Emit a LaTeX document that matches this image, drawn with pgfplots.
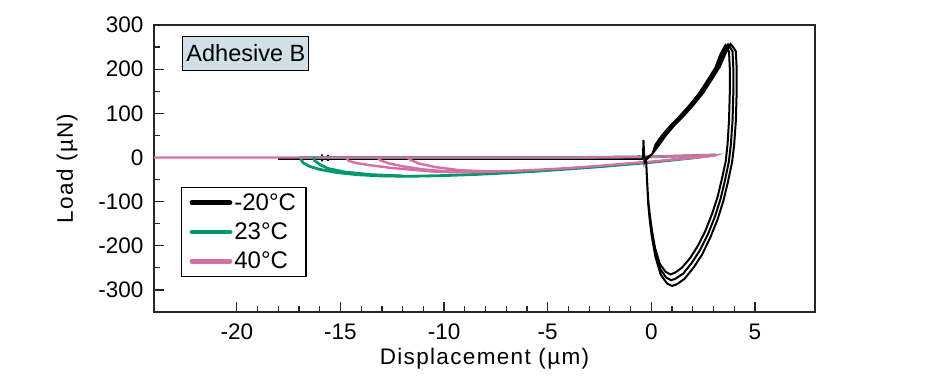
\documentclass[border=0pt]{standalone}
\usepackage{pgfplots}
\pgfplotsset{compat=1.18}
\usepackage{fontspec}
\setmainfont{Liberation Sans}
\definecolor{cgreen}{RGB}{0,152,110}
\definecolor{cpink}{RGB}{212,112,164}
\definecolor{cbox}{RGB}{208,224,230}
\begin{document}
\begin{tikzpicture}[x=1pt,y=1pt]
\useasboundingbox (0,0) rectangle (950,380);
\begin{axis}[
  at={(154pt,68pt)}, anchor=south west,
  scale only axis, width=661pt, height=287pt,
  xmin=-24, xmax=7.9, ymin=-350, ymax=300,
  xtick={-20,-15,...,5}, ytick={-300,-200,...,300},
  minor x tick num=4, minor y tick num=1,
  xtick pos=bottom, ytick pos=left,
  tick align=inside,
  major tick length=10pt, minor tick length=6pt,
  axis line style={line width=1.6pt, black!85},
  every tick/.style={line width=1.2pt, black!85},
  /pgf/number format/assume math mode=true,
  ticklabel style={font=\fontsize{22.5}{26}\selectfont},
  xticklabel style={yshift=-8pt},
  yticklabel style={xshift=-7pt},
  xlabel={Displacement (µm)}, ylabel={Load (µN)},
  label style={font=\addfontfeatures{LetterSpace=6}\fontsize{22.5}{26}\selectfont},
  xlabel style={at={(axis description cs:0.5,-0.162)}, anchor=center},
  ylabel style={at={(axis description cs:-0.1316,0.5)}, anchor=center},
  legend style={at={(axis description cs:0.0408,0.4355)}, anchor=north west,
    font=\fontsize{24}{28}\selectfont, draw=black, line width=1.2pt,
    inner xsep=8pt, inner ysep=4pt, row sep=7pt, cells={anchor=west}},
  legend image code/.code={\draw[#1, line width=4.8pt, line cap=round] (0pt,0pt) -- (38pt,0pt);},
  clip=true,
]
% -20C approach (horizontal) segment
\addplot[black, line width=2pt] coordinates {
(-18,-2.5) (-15.9,-2.5) (-15.9,7) (-15.9,-9) (-15.9,-2.5) (-15.6,-2.5) (-15.6,6) (-15.6,-8) (-15.6,-2.5)
(-0.6,-2.5) (-0.6,5) (-0.6,-6) (-0.6,-2.5) (-0.4,-2.5)};
\addlegendentry{-20°C}
% 23C
\addplot[cgreen, line width=2.8pt] coordinates {
(-17,0) (-3.4,0) (0,1.5) (3.0,5.5)
(3.1,6) (2,-1) (1,-6) (0,-11) (-1,-15) (-2.5,-21) (-4,-26) (-5.5,-31) (-7,-35) (-8.5,-38.5)
(-10,-41) (-11.5,-42.5) (-13,-42) (-14.2,-39) (-15.2,-34) (-16,-27) (-16.5,-20) (-16.8,-12) (-16.9,-5) (-16.9,0)};
\addlegendentry{23°C}
% 40C
\addplot[cpink, line width=2.4pt] coordinates {
(-24,0) (-3.4,0) (0,1.5) (3.1,5.5)
(3.0,4) (2,-1) (1,-5) (0,-9.5) (-1,-13) (-2.5,-19) (-4,-24) (-5.5,-28) (-7,-31) (-8.5,-33)
(-9.5,-33.5) (-10.5,-32) (-11.5,-28) (-12.5,-24) (-13.5,-18) (-14.2,-13) (-14.6,-8) (-14.7,-2) (-14.7,0)};
\addlegendentry{40°C}
\addplot[cgreen, line width=2.8pt, forget plot] coordinates {
(-12,-42) (-13.5,-39) (-14.8,-33) (-15.6,-25) (-16.0,-16) (-16.25,-7) (-16.3,0)};
\addplot[cpink, line width=2.4pt, forget plot] coordinates {
(-8.5,-33) (-10,-31) (-11,-27) (-12,-20) (-12.7,-13) (-13.1,-6) (-13.2,0)};
\addplot[cpink, line width=2.4pt, forget plot] coordinates {
(-7.5,-32) (-9.2,-29) (-10.4,-22) (-11.2,-14) (-11.6,-6) (-11.8,0)};
% -20C loops
\addplot[black, line width=2pt, forget plot] coordinates {
(-0.4,-2.5) (-0.38,40) (-0.33,-8) (-0.3,-3) (0.05,8)
(0.4,30) (0.7,50) (1.1,72) (1.5,91) (2.0,117) (2.5,146) (2.9,175) (3.3,205) (3.58,235) (3.75,252) (3.82,257)
(3.95,250) (4.08,240) (4.12,200) (4.12,150) (4.08,83) (4.0,30) (3.9,-10) (3.7,-55) (3.48,-98) (3.2,-140)
(2.85,-181) (2.45,-220) (2.03,-250) (1.6,-275) (1.24,-287) (1.0,-291) (0.75,-285) (0.45,-265) (0.2,-225)
(0.03,-181) (-0.08,-140) (-0.15,-105) (-0.21,-50) (-0.25,-5) (0.05,8)
(0.3,31) (0.6,51) (1.0,73) (1.4,92) (1.9,118) (2.4,147) (2.8,176) (3.2,206) (3.45,234) (3.62,250) (3.7,256)
(3.79,250) (3.92,240) (3.96,200) (3.96,150) (3.92,83) (3.84,30) (3.74,-10) (3.55,-53) (3.34,-94) (3.07,-134)
(2.74,-173) (2.35,-210) (1.95,-239) (1.54,-263) (1.19,-274) (0.96,-278) (0.72,-272) (0.43,-253) (0.19,-215)
(0.03,-173) (-0.08,-134) (-0.15,-100) (-0.21,-48) (-0.25,-5) (0.05,8)
(0.2,29) (0.5,49) (0.9,71) (1.3,90) (1.8,116) (2.3,145) (2.7,174) (3.1,204) (3.32,232) (3.5,248) (3.58,254)
(3.63,250) (3.75,240) (3.79,200) (3.79,150) (3.75,83) (3.68,30) (3.59,-9) (3.40,-50) (3.20,-89) (2.94,-127)
(2.62,-165) (2.25,-200) (1.87,-228) (1.47,-250) (1.14,-261) (0.92,-265) (0.69,-259) (0.41,-241) (0.18,-205)
(0.03,-165) (-0.08,-127) (-0.15,-96) (-0.21,-46) (-0.25,-5) (0.05,8)};
\node[draw=black, line width=1.2pt, fill=cbox, minimum width=126pt, minimum height=34pt, inner sep=0pt,
  font=\fontsize{23.5}{27}\selectfont] at (axis description cs:0.139,0.902) {Adhesive B};
\end{axis}
\end{tikzpicture}
\end{document}
